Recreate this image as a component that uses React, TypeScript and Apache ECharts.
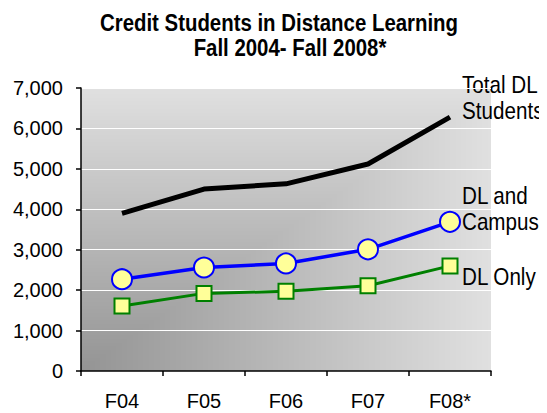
import React, { useEffect, useRef } from "react";
import * as echarts from "echarts";

const categories = ["F04", "F05", "F06", "F07", "F08*"];
const totalDL = [3900, 4500, 4630, 5120, 6280];
const dlAndCampus = [2270, 2560, 2660, 3010, 3690];
const dlOnly = [1610, 1920, 1970, 2110, 2600];
const titleLines = ["Credit Students in Distance Learning", "Fall 2004- Fall 2008*"];

const SANS = '"Liberation Sans", Arial, sans-serif';
const W = 547;
const H = 413;
const GRID = { left: 81, right: 56, top: 88, bottom: 42 };

function cornerGradient(w: number, h: number): string {
  const c = document.createElement("canvas");
  c.width = w;
  c.height = h;
  const ctx = c.getContext("2d")!;
  const img = ctx.createImageData(w, h);
  const dark = 148;
  const light = 224;
  for (let y = 0; y < h; y++) {
    for (let x = 0; x < w; x++) {
      const t = Math.min(1, Math.max(x / (w - 1), (h - 1 - y) / (h - 1)));
      const v = Math.round(dark + (light - dark) * t);
      const i = (y * w + x) * 4;
      img.data[i] = v;
      img.data[i + 1] = v;
      img.data[i + 2] = v;
      img.data[i + 3] = 255;
    }
  }
  ctx.putImageData(img, 0, 0);
  return c.toDataURL("image/png");
}

export default function App() {
  const ref = useRef<HTMLDivElement>(null);
  useEffect(() => {
    const chart = echarts.init(ref.current!, null, { renderer: "svg" });
    const gw = W - GRID.left - GRID.right;
    const gh = H - GRID.top - GRID.bottom;
    const bg = cornerGradient(gw, gh);
    const txt = (text: string, x: number, y: number, font: string, align: string, sx: number, lineHeight?: number) => ({
      type: "text",
      x,
      y,
      scaleX: sx,
      style: {
        text,
        font,
        fill: "#000",
        align,
        verticalAlign: "middle",
        lineHeight,
      },
    });
    chart.setOption({
      animation: false,
      grid: { ...GRID, show: false },
      xAxis: {
        type: "category",
        data: categories,
        boundaryGap: true,
        axisLine: { lineStyle: { color: "#000", width: 1.5 } },
        axisTick: { show: true, length: 5, lineStyle: { color: "#000", width: 1.5 } },
        axisLabel: { color: "#000", fontFamily: SANS, fontSize: 20, margin: 20 },
      },
      yAxis: {
        type: "value",
        min: 0,
        max: 7000,
        interval: 1000,
        axisLine: { show: true, lineStyle: { color: "#000", width: 1.5 } },
        axisTick: { show: true, length: 5, lineStyle: { color: "#000", width: 1.5 } },
        axisLabel: {
          color: "#000",
          fontFamily: SANS,
          fontSize: 20,
          margin: 18,
          formatter: (v: number) => v.toLocaleString("en-US"),
        },
        splitLine: { show: true, lineStyle: { color: "#ffffff", width: 1 } },
      },
      series: [
        {
          name: "Total DL Students",
          type: "line",
          data: totalDL,
          symbol: "none",
          lineStyle: { color: "#000", width: 5 },
        },
        {
          name: "DL and Campus",
          type: "line",
          data: dlAndCampus,
          symbol: "circle",
          symbolSize: 20,
          lineStyle: { color: "#0000ff", width: 3.5 },
          itemStyle: { color: "#ffff99", borderColor: "#0000ff", borderWidth: 2 },
        },
        {
          name: "DL Only",
          type: "line",
          data: dlOnly,
          symbol: "rect",
          symbolSize: 15,
          lineStyle: { color: "#008000", width: 3 },
          itemStyle: { color: "#ffff99", borderColor: "#008000", borderWidth: 2 },
        },
      ],
      graphic: [
        {
          type: "image",
          x: GRID.left,
          y: GRID.top,
          z: -100,
          silent: true,
          style: { image: bg, width: gw, height: gh },
        },
        txt(titleLines[0], 279, 23, `bold 24px ${SANS}`, "center", 0.85),
        txt(titleLines[1], 290, 48, `bold 24px ${SANS}`, "center", 0.85),
        txt("Total DL\nStudents", 462, 98, `24px ${SANS}`, "left", 0.86, 26),
        txt("DL and\nCampus", 462, 209, `24px ${SANS}`, "left", 0.86, 26),
        txt("DL Only", 462, 277, `24px ${SANS}`, "left", 0.86),
      ],
    });
    return () => chart.dispose();
  }, []);
  return <div ref={ref} style={{ width: W, height: H, marginLeft: -8, marginTop: -8 }} />;
}
